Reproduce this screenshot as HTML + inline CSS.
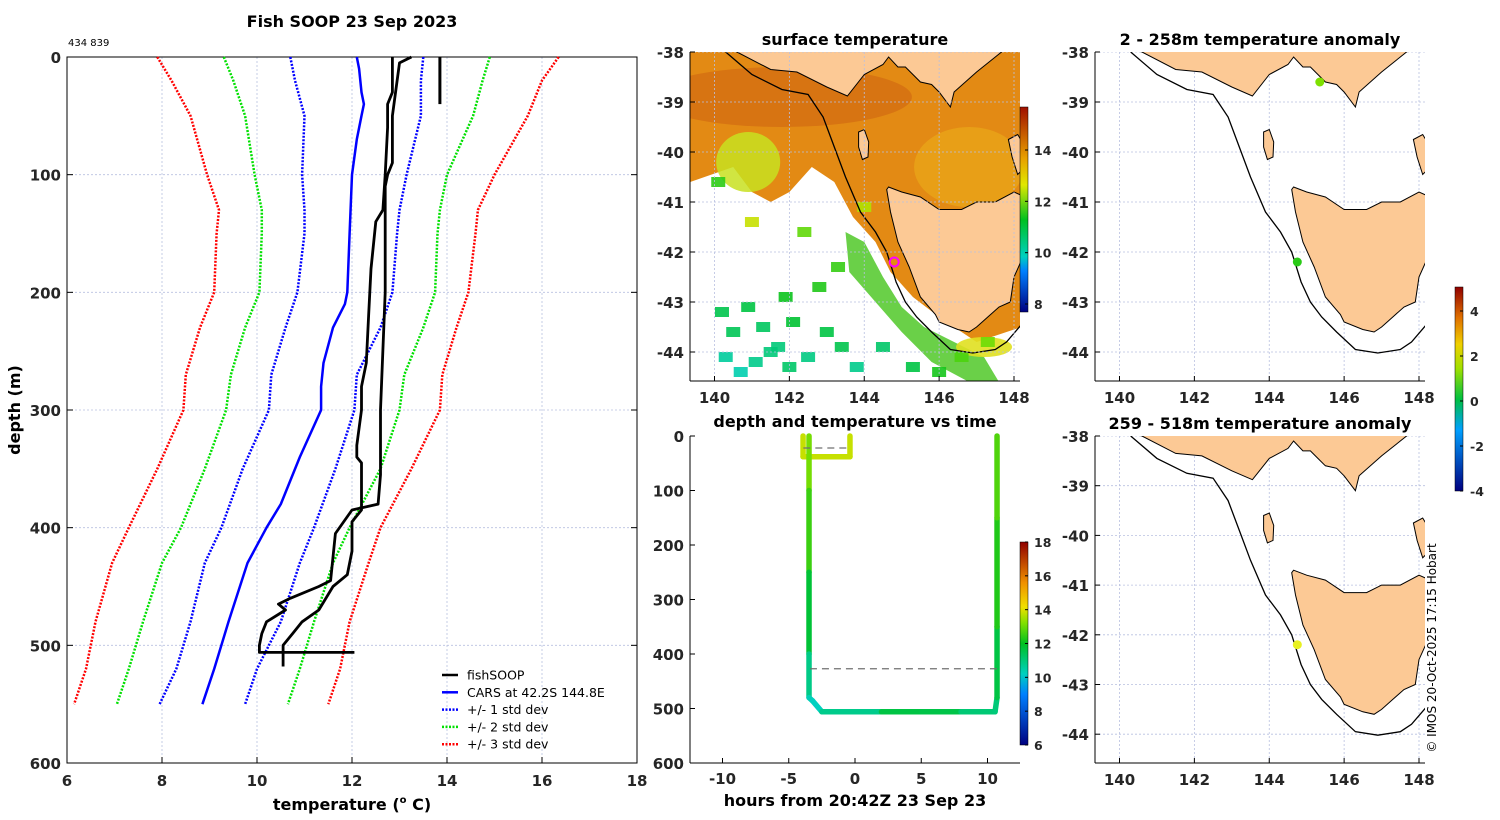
<!DOCTYPE html>
<html><head><meta charset="utf-8"><style>
html,body{margin:0;padding:0;background:#fff}
svg{display:block;font-family:"DejaVu Sans","Liberation Sans",sans-serif}
.tk{font-size:15px;font-weight:bold;fill:#262626}
.tt{font-size:16px;font-weight:bold;fill:#000}
</style></head><body>
<svg id="fig" width="1500" height="820" viewBox="0 0 1500 820" xmlns="http://www.w3.org/2000/svg">
<defs>
<linearGradient id="jet" x1="0" y1="1" x2="0" y2="0">
<stop offset="0" stop-color="#000080"/><stop offset="0.25" stop-color="#0080ff"/><stop offset="0.35" stop-color="#00d0c0"/><stop offset="0.5" stop-color="#00c020"/><stop offset="0.6" stop-color="#80e000"/><stop offset="0.68" stop-color="#f0e000"/><stop offset="0.8" stop-color="#f09000"/><stop offset="1" stop-color="#900000"/>
</linearGradient>
<linearGradient id="sstc" x1="0" y1="1" x2="0" y2="0">
<stop offset="0" stop-color="#000080"/><stop offset="0.2" stop-color="#0080ff"/><stop offset="0.27" stop-color="#00d0c0"/><stop offset="0.45" stop-color="#00c020"/><stop offset="0.62" stop-color="#e0e800"/><stop offset="0.75" stop-color="#e8a000"/><stop offset="1" stop-color="#a01000"/>
</linearGradient>
<linearGradient id="anom" x1="0" y1="1" x2="0" y2="0">
<stop offset="0" stop-color="#000080"/><stop offset="0.3" stop-color="#00a0ff"/><stop offset="0.45" stop-color="#00c040"/><stop offset="0.6" stop-color="#a0e000"/><stop offset="0.72" stop-color="#f0d000"/><stop offset="0.85" stop-color="#e07000"/><stop offset="1" stop-color="#900000"/>
</linearGradient>
</defs>
<g id="root"></g>
</svg>
<script>
// ---------- data: profile plot ----------
const carsDepth=[0,10,30,40,50,70,100,150,200,210,230,260,280,300,340,380,400,430,480,520,550];
const carsTemp=[12.1,12.15,12.2,12.25,12.2,12.1,12.0,11.95,11.9,11.85,11.6,11.4,11.35,11.35,10.9,10.5,10.2,9.8,9.4,9.1,8.85];
const stdDepth=[0,20,50,100,130,150,200,230,270,300,350,400,430,480,520,550];
const m1Temp=[10.7,10.8,11.0,10.95,11.0,11.0,10.85,10.6,10.3,10.25,9.7,9.25,8.9,8.6,8.3,7.95];
const p1Temp=[13.5,13.45,13.45,13.15,13.0,12.95,12.85,12.6,12.1,12.05,11.65,11.2,10.9,10.5,10.0,9.75];
const m2Temp=[9.3,9.5,9.75,9.95,10.1,10.1,10.05,9.75,9.45,9.35,8.9,8.4,8.0,7.6,7.3,7.05];
const p2Temp=[14.9,14.75,14.55,14.0,13.85,13.8,13.75,13.5,13.1,13.0,12.6,11.95,11.6,11.2,10.9,10.65];
const m3Temp=[7.9,8.2,8.6,8.95,9.2,9.15,9.1,8.8,8.5,8.45,7.9,7.3,6.95,6.6,6.4,6.15];
const p3Temp=[16.35,16.0,15.7,15.0,14.65,14.6,14.45,14.2,13.9,13.85,13.25,12.6,12.35,11.95,11.75,11.5];
const fishADepth=[0,30,40,60,100,130,140,180,220,260,280,300,330,340,345,360,385,395,420,440,450,470,480,490,500,506,518];
const fishATemp=[12.85,12.85,12.75,12.75,12.7,12.65,12.5,12.4,12.35,12.3,12.2,12.2,12.1,12.1,12.2,12.2,12.2,12.0,12.0,11.9,11.6,11.3,10.95,10.75,10.55,10.55,10.55];
const fishBDepth=[0,5,50,90,100,110,200,300,355,380,385,405,445,450,460,465,470,480,490,500,506,506];
const fishBTemp=[13.25,13.0,12.85,12.85,12.75,12.7,12.7,12.6,12.6,12.55,12.0,11.65,11.55,11.3,10.7,10.45,10.6,10.2,10.1,10.05,10.05,12.05];
const fishCDepth=[0,40];
const fishCTemp=[13.85,13.85];
const profXTicks=[6,8,10,12,14,16,18];
const profYTicks=[0,100,200,300,400,500,600];
// ---------- data: depth vs time ----------
const pathHours=[-3.92,-3.92,-0.38,-0.38];
const pathDepthsA=[0,38,38,0];
const pathTempsA=[13.8,13.8,13.8,13.8];
const pathHoursB=[-3.47,-3.47,-3.47,-3.47,-3.47,-3.2,-2.5,2,5,8,10.57,10.72,10.72,10.72,10.72];
const pathDepthsB=[0,100,250,400,480,486,506,506,506,506,506,480,350,150,0];
const pathTempsB=[13.3,12.9,12.2,11.3,10.4,10.2,10.2,11.4,11.8,11.3,10.8,11.2,12.0,12.6,12.9];
const timeXTicks=[-10,-5,0,5,10];
const timeYTicks=[0,100,200,300,400,500,600];
const cb1Ticks=[6,8,10,12,14,16,18];
// ---------- data: maps ----------
const lonTicks=[140,142,144,146,148];
const latTicks=[-38,-39,-40,-41,-42,-43,-44];
const sstTicks=[8,10,12,14];
const anomTicks=[-4,-2,0,2,4];
const vicLon=[139.0,140.6,141.5,142.2,143.0,143.55,144.0,144.5,144.65,144.9,145.1,145.3,145.5,145.8,146.0,146.3,146.4,147.0,147.5,148.0,148.6,148.6,139.0];
const vicLat=[-37.6,-38.0,-38.35,-38.4,-38.7,-38.88,-38.45,-38.25,-38.1,-38.3,-38.3,-38.45,-38.6,-38.65,-38.8,-39.1,-38.8,-38.4,-38.1,-37.8,-37.6,-37.0,-37.0];
const tasLon=[144.6,144.65,145.0,145.5,146.0,146.6,147.0,147.5,148.0,148.3,148.3,148.3,148.0,147.9,147.6,147.3,147.0,146.8,146.5,146.0,145.9,145.5,145.2,144.9,144.7];
const tasLat=[-40.75,-40.7,-40.8,-40.9,-41.15,-41.15,-41.0,-41.0,-40.8,-40.9,-41.5,-42.0,-42.5,-43.0,-43.1,-43.3,-43.5,-43.6,-43.55,-43.4,-43.25,-42.9,-42.3,-41.8,-41.2];
const flLon=[147.85,148.1,148.3,148.3,148.1,147.95];
const flLat=[-39.75,-39.65,-39.9,-40.3,-40.45,-40.1];
const kiLon=[143.85,144.0,144.12,144.1,143.95,143.85];
const kiLat=[-39.6,-39.55,-39.8,-40.1,-40.15,-39.9];
const shelfLon=[140.3,141.0,141.8,142.5,142.9,143.2,143.5,143.9,144.3,144.6,144.85,145.1,145.4,145.8,146.3,146.9,147.5,147.8,148.2];
const shelfLat=[-38.0,-38.45,-38.75,-38.85,-39.3,-39.9,-40.5,-41.2,-41.6,-42.0,-42.6,-43.0,-43.3,-43.6,-43.95,-44.02,-43.95,-43.8,-43.45];
const warmLon=[139.35,148.2,148.2,147,146,145.3,144.7,144.3,143.7,143.2,142.6,142.0,141.5,141.0,140.5,139.35];
const warmLat=[-38,-38,-43.5,-43.8,-43.3,-42.9,-42.4,-41.8,-41.3,-40.6,-40.3,-40.8,-41.0,-40.8,-40.3,-40.6];
const coolLon=[143.5,144.0,144.5,145.0,145.6,146.4,147.2,147.6,146.8,145.8,145.0,144.3,143.6];
const coolLat=[-41.6,-41.8,-42.5,-43.1,-43.5,-43.8,-44.1,-44.6,-44.6,-44.2,-43.6,-43.0,-42.4];
const patchLon=[140.2,140.5,140.9,141.3,141.7,142.1,140.3,140.7,141.1,141.5,142.0,142.5,143.0,143.4,143.8,142.8,143.3,141.9,140.1,144.5,145.3,146.0,146.6,147.3,144.0,142.4,141.0];
const patchLat=[-43.2,-43.6,-43.1,-43.5,-43.9,-43.4,-44.1,-44.4,-44.2,-44.0,-44.3,-44.1,-43.6,-43.9,-44.3,-42.7,-42.3,-42.9,-40.6,-43.9,-44.3,-44.4,-44.1,-43.8,-41.1,-41.6,-41.4];
const patchTemp=[11.5,11.4,11.6,11.3,11.0,11.8,10.6,10.4,10.8,11.0,11.2,10.9,11.6,11.5,10.8,12.3,12.5,12.1,12.4,11.2,11.6,12.2,12.7,13.0,13.6,12.9,13.8];
const shipLon=[144.8];const shipLat=[-42.2];
const dotTopLon=[145.35,144.75];const dotTopLat=[-38.6,-42.2];const dotTopAnom=[1.3,0.6];
const dotBotLon=[144.75];const dotBotLat=[-42.2];const dotBotAnom=[2.0];

// ---------- helpers ----------
const NS='http://www.w3.org/2000/svg';
const root=document.getElementById('root');
function mk(tag,attrs,parent){const e=document.createElementNS(NS,tag);for(const k in attrs)e.setAttribute(k,attrs[k]);(parent||root).appendChild(e);return e;}
function txt(x,y,s,cls,anchor,parent,extra){const e=mk('text',Object.assign({x:x,y:y,'text-anchor':anchor||'middle'},extra||{}),parent);if(cls)e.setAttribute('class',cls);e.textContent=s;return e;}
function lin(a,b,c,d){return v=>c+(v-a)*(d-c)/(b-a);}
const stops=[[0,[0,0,128]],[0.25,[0,128,255]],[0.35,[0,208,192]],[0.5,[0,192,32]],[0.6,[128,224,0]],[0.68,[240,224,0]],[0.8,[240,144,0]],[1,[144,0,0]]];
function cmap(t){t=Math.max(0,Math.min(1,t));for(let i=1;i<stops.length;i++){if(t<=stops[i][0]){const [a,ca]=stops[i-1],[b,cb]=stops[i];const f=(t-a)/(b-a);return 'rgb('+ca.map((v,k)=>Math.round(v+(cb[k]-v)*f)).join(',')+')';}}return 'rgb(144,0,0)';}

// ---------- Panel 1: profile ----------
const P1={x0:67,x1:637,y0:57,y1:763};
const px=lin(6,18,P1.x0,P1.x1), py=lin(0,600,P1.y0,P1.y1);
const g1=mk('g',{});


txt(352,27,'Fish SOOP 23 Sep 2023','tt','middle',g1,{'font-size':'17'});
const sub=txt(68,46,'434 839',null,'start',g1,{'font-size':'10'});


profXTicks.forEach(v=>{if(v>6&&v<18)mk('line',{x1:px(v),x2:px(v),y1:P1.y0,y2:P1.y1,stroke:'#b8c0e0','stroke-width':0.8,'stroke-dasharray':'2,2'},g1);
 mk('line',{x1:px(v),x2:px(v),y1:P1.y1,y2:P1.y1-6,stroke:'#000'},g1);
 const t=txt(px(v),786,String(v),'tk','middle',g1);});
profYTicks.forEach(v=>{if(v>0&&v<600)mk('line',{x1:P1.x0,x2:P1.x1,y1:py(v),y2:py(v),stroke:'#b8c0e0','stroke-width':0.8,'stroke-dasharray':'2,2'},g1);
 mk('line',{x1:P1.x0,x2:P1.x0+6,y1:py(v),y2:py(v),stroke:'#000'},g1);mk('line',{x1:P1.x1,x2:P1.x1-6,y1:py(v),y2:py(v),stroke:'#000'},g1);
 const t=txt(61,py(v)+6,String(v),'tk','end',g1);});
mk('rect',{x:P1.x0,y:P1.y0,width:P1.x1-P1.x0,height:P1.y1-P1.y0,fill:'none',stroke:'#000','stroke-width':1},g1);
const xl=txt(352,810,'temperature (',null,'middle',g1,{'font-size':'16','font-weight':'bold'});
xl.textContent='';
xl.innerHTML='temperature (<tspan font-size="10" dy="-7">o</tspan><tspan dy="7"> C)</tspan>';
const yl=txt(0,0,'depth (m)',null,'middle',g1,{'font-size':'16','font-weight':'bold',transform:'translate(20,410) rotate(-90)'});

function curve(ds,ts,color,w,dash,name){const d=ds.map((v,i)=>(i?'L':'M')+px(ts[i]).toFixed(1)+','+py(v).toFixed(1)).join('');
 const p=mk('path',{d:d,fill:'none',stroke:color,'stroke-width':w,'stroke-linejoin':'round'},g1);if(dash)p.setAttribute('stroke-dasharray',dash);
 }
curve(stdDepth,m3Temp,'#ff0000',2.5,'2,1.5','minus-3-std-line');curve(stdDepth,p3Temp,'#ff0000',2.5,'2,1.5','plus-3-std-line');
curve(stdDepth,m2Temp,'#00e000',2.5,'2,1.5','minus-2-std-line');curve(stdDepth,p2Temp,'#00e000',2.5,'2,1.5','plus-2-std-line');
curve(stdDepth,m1Temp,'#0000ff',2.5,'2,1.5','minus-1-std-line');curve(stdDepth,p1Temp,'#0000ff',2.5,'2,1.5','plus-1-std-line');
curve(carsDepth,carsTemp,'#0000ff',2.5,null,'cars-line');
curve(fishADepth,fishATemp,'#000',2.8,null,'fishsoop-line-down');curve(fishBDepth,fishBTemp,'#000',2.8,null,'fishsoop-line-up');curve(fishCDepth,fishCTemp,'#000',3,null,'fishsoop-line-surface');
const lg=mk('g',{},g1);
[['fishSOOP','#000',null],['CARS at 42.2S 144.8E','#0000ff',null],['+/- 1 std dev','#0000ff','2,1.5'],['+/- 2 std dev','#00e000','2,1.5'],['+/- 3 std dev','#ff0000','2,1.5']].forEach((e,i)=>{
 const y=675+i*17.3;const l=mk('line',{x1:442,x2:458,y1:y,y2:y,stroke:e[1],'stroke-width':2.5},lg);if(e[2])l.setAttribute('stroke-dasharray',e[2]);
 const t=txt(467,y+4.5,e[0],null,'start',lg,{'font-size':'12.5'});});

// ---------- map helper ----------
function mapPanel(name,x0,x1,y0,y1,latTop,latPerPx,title){
 const g=mk('g',{});
 const mx=lin(140,148,x0+24.5,x0+324), my=lin(-38,-44,latTop,latTop+6*latPerPx);
 const id='clip'+name;const cp=mk('clipPath',{id:id},g);mk('rect',{x:x0,y:y0,width:x1-x0,height:y1-y0},cp);
 const inner=mk('g',{'clip-path':'url(#'+id+')'},g);
 txt((x0+x1)/2,y0-7,title,'tt','middle',g,{'font-size':'16.5'});
 return {g,inner,mx,my,x0,x1,y0,y1};}
function poly(M,lons,lats,attrs,name,parent){const pts=lons.map((v,i)=>M.mx(v).toFixed(1)+','+M.my(lats[i]).toFixed(1)).join(' ');
 const p=mk('polygon',Object.assign({points:pts},attrs),parent||M.inner);return p;}
function pline(M,lons,lats,attrs,name){const pts=lons.map((v,i)=>M.mx(v).toFixed(1)+','+M.my(lats[i]).toFixed(1)).join(' ');
 const p=mk('polyline',Object.assign({points:pts,fill:'none'},attrs),M.inner);}
function grid(M){lonTicks.forEach(v=>mk('line',{x1:M.mx(v),x2:M.mx(v),y1:M.y0,y2:M.y1,stroke:'#b8c0e0','stroke-width':0.8,'stroke-dasharray':'2,2'},M.inner));
 latTicks.forEach(v=>mk('line',{x1:M.x0,x2:M.x1,y1:M.my(v),y2:M.my(v),stroke:'#b8c0e0','stroke-width':0.8,'stroke-dasharray':'2,2'},M.inner));}
function land(M){const a={fill:'#fcc995',stroke:'#000','stroke-width':1};
 poly(M,vicLon,vicLat,a,'victoria-land');poly(M,tasLon,tasLat,a,'tasmania-land');poly(M,flLon,flLat,a,'flinders-island');poly(M,kiLon,kiLat,a,'king-island');
 pline(M,shelfLon,shelfLat,{stroke:'#000','stroke-width':1.3},'shelf-contour');}
function axes(M,showLon){
 mk('line',{x1:M.x0,x2:M.x0,y1:M.y0,y2:M.y1,stroke:'#000'},M.g);mk('line',{x1:M.x0,x2:M.x1,y1:M.y1,y2:M.y1,stroke:'#000'},M.g);
 lonTicks.forEach(v=>{mk('line',{x1:M.mx(v),x2:M.mx(v),y1:M.y1,y2:M.y1-5,stroke:'#000'},M.g);
  const t=txt(M.mx(v),M.y1+22,String(v),'tk','middle',M.g);});
 latTicks.forEach(v=>{mk('line',{x1:M.x0,x2:M.x0+5,y1:M.my(v),y2:M.my(v),stroke:'#000'},M.g);
  const t=txt(M.x0-6,M.my(v)+6,String(v),'tk','end',M.g);});}

// ---------- Panel 2: SST map ----------
const S=mapPanel('sst-map',690,1020,52,381,52,50,'surface temperature');
poly(S,warmLon,warmLat,{fill:'#e38a14'},'warm-water-region');
const wm=mk('ellipse',{cx:S.mx(141.8),cy:S.my(-38.9),rx:130,ry:30,fill:'#cf6510',opacity:0.6},S.inner);

const ym=mk('ellipse',{cx:S.mx(146.8),cy:S.my(-40.3),rx:55,ry:40,fill:'#eaa818',opacity:0.7},S.inner);

const yg=mk('ellipse',{cx:S.mx(140.9),cy:S.my(-40.2),rx:32,ry:30,fill:'#c8e020',opacity:0.85},S.inner);

poly(S,coolLon,coolLat,{fill:'#50c828',opacity:0.85},'cool-shelf-water');
const ye=mk('ellipse',{cx:S.mx(147.2),cy:S.my(-43.9),rx:28,ry:10,fill:'#e0e020',opacity:0.9},S.inner);

const sTemp=lin(6,18,0,1);
patchLon.forEach((v,i)=>{const e=mk('rect',{x:S.mx(v)-7,y:S.my(patchLat[i])-5,width:14,height:10,fill:cmap(sTemp(patchTemp[i])),opacity:0.9},S.inner);
 });
land(S);grid(S);
shipLon.forEach((v,i)=>{const c=mk('circle',{cx:S.mx(v),cy:S.my(shipLat[i]),r:4.5,fill:'none',stroke:'#ff00ff','stroke-width':2},S.g);
 });
axes(S);
const cbS=mk('rect',{x:1020,y:107,width:8,height:205,fill:'url(#sstc)',stroke:'#000','stroke-width':0.5});

const sy=lin(8,14,304,150);
sstTicks.forEach(v=>{mk('line',{x1:1025,x2:1028,y1:sy(v),y2:sy(v),stroke:'#000'});const t=txt(1034,sy(v)+5,String(v),null,'start',null,{'font-size':'12.5','font-weight':'bold','fill':'#262626'});});

// ---------- Panel 3: depth vs time ----------
const T={x0:690,x1:1020,y0:436,y1:763};
const tx=lin(0,10,855,987.5), ty=lin(0,600,436,763);
const g3=mk('g',{});
txt(855,427,'depth and temperature vs time','tt','middle',g3,{'font-size':'16.5'});
mk('line',{x1:T.x0,x2:T.x0,y1:T.y0,y2:T.y1,stroke:'#000'},g3);mk('line',{x1:T.x0,x2:T.x1,y1:T.y1,y2:T.y1,stroke:'#000'},g3);
timeXTicks.forEach(v=>{mk('line',{x1:tx(v),x2:tx(v),y1:T.y1,y2:T.y1-5,stroke:'#000'},g3);const t=txt(tx(v),784,String(v),'tk','middle',g3);});
timeYTicks.forEach(v=>{mk('line',{x1:T.x0,x2:T.x0+5,y1:ty(v),y2:ty(v),stroke:'#000'},g3);const t=txt(684,ty(v)+6,String(v),'tk','end',g3);});
const tl=txt(855,806,'hours from 20:42Z 23 Sep 23','tt','middle',g3);
const cT=lin(6,18,0,1);
function track(hs,ds,ts,name){for(let i=1;i<hs.length;i++){const s=mk('line',{x1:tx(hs[i-1]),y1:ty(ds[i-1]),x2:tx(hs[i]),y2:ty(ds[i]),stroke:cmap(cT((ts[i-1]+ts[i])/2)),'stroke-width':5.5,'stroke-linecap':'round'},g3);
 }}
track(pathHours,pathDepthsA,pathTempsA,'track-surface-segment');track(pathHoursB,pathDepthsB,pathTempsB,'track-deep-segment');
const d1=mk('line',{x1:tx(-3.9),x2:tx(-0.5),y1:ty(22),y2:ty(22),stroke:'#707070','stroke-width':1.3,'stroke-dasharray':'7,5'},g3);
const d2=mk('line',{x1:tx(-3.4),x2:tx(10.7),y1:ty(427),y2:ty(427),stroke:'#707070','stroke-width':1.3,'stroke-dasharray':'7,5'},g3);
const cbT=mk('rect',{x:1020,y:542,width:8,height:203,fill:'url(#jet)',stroke:'#000','stroke-width':0.5});
const cy=lin(6,18,745,542);
cb1Ticks.forEach(v=>{mk('line',{x1:1025,x2:1028,y1:cy(v),y2:cy(v),stroke:'#000'});const t=txt(1034,cy(v)+5,String(v),null,'start',null,{'font-size':'12.5','font-weight':'bold','fill':'#262626'});});

// ---------- Panels 4/5: anomaly maps ----------
const aC=lin(-5,5,0,1);
const A1=mapPanel('anomaly-map-shallow',1095,1425,52,381,52,50,'2 - 258m temperature anomaly');
grid(A1);land(A1);
dotTopLon.forEach((v,i)=>{const c=mk('circle',{cx:A1.mx(v),cy:A1.my(dotTopLat[i]),r:4.5,fill:cmap(aC(dotTopAnom[i])*0.95)},A1.g);});
axes(A1);
const A2=mapPanel('anomaly-map-deep',1095,1425,436,763,436,49.7,'259 - 518m temperature anomaly');
grid(A2);land(A2);
dotBotLon.forEach((v,i)=>{const c=mk('circle',{cx:A2.mx(v),cy:A2.my(dotBotLat[i]),r:4.5,fill:'#e8f020'},A2.g);});
axes(A2);
const cbA=mk('rect',{x:1455,y:287,width:8,height:204,fill:'url(#anom)',stroke:'#000','stroke-width':0.5});
const ay=lin(-4,4,491,311);
anomTicks.forEach(v=>{mk('line',{x1:1460,x2:1463,y1:ay(v),y2:ay(v),stroke:'#000'});const t=txt(1470,ay(v)+5,String(v),null,'start',null,{'font-size':'12.5','font-weight':'bold','fill':'#262626'});});
const cr=txt(0,0,'© IMOS 20-Oct-2025 17:15 Hobart',null,'middle',null,{'font-size':'12',transform:'translate(1436,648) rotate(-90)'});

</script>
</body></html>
